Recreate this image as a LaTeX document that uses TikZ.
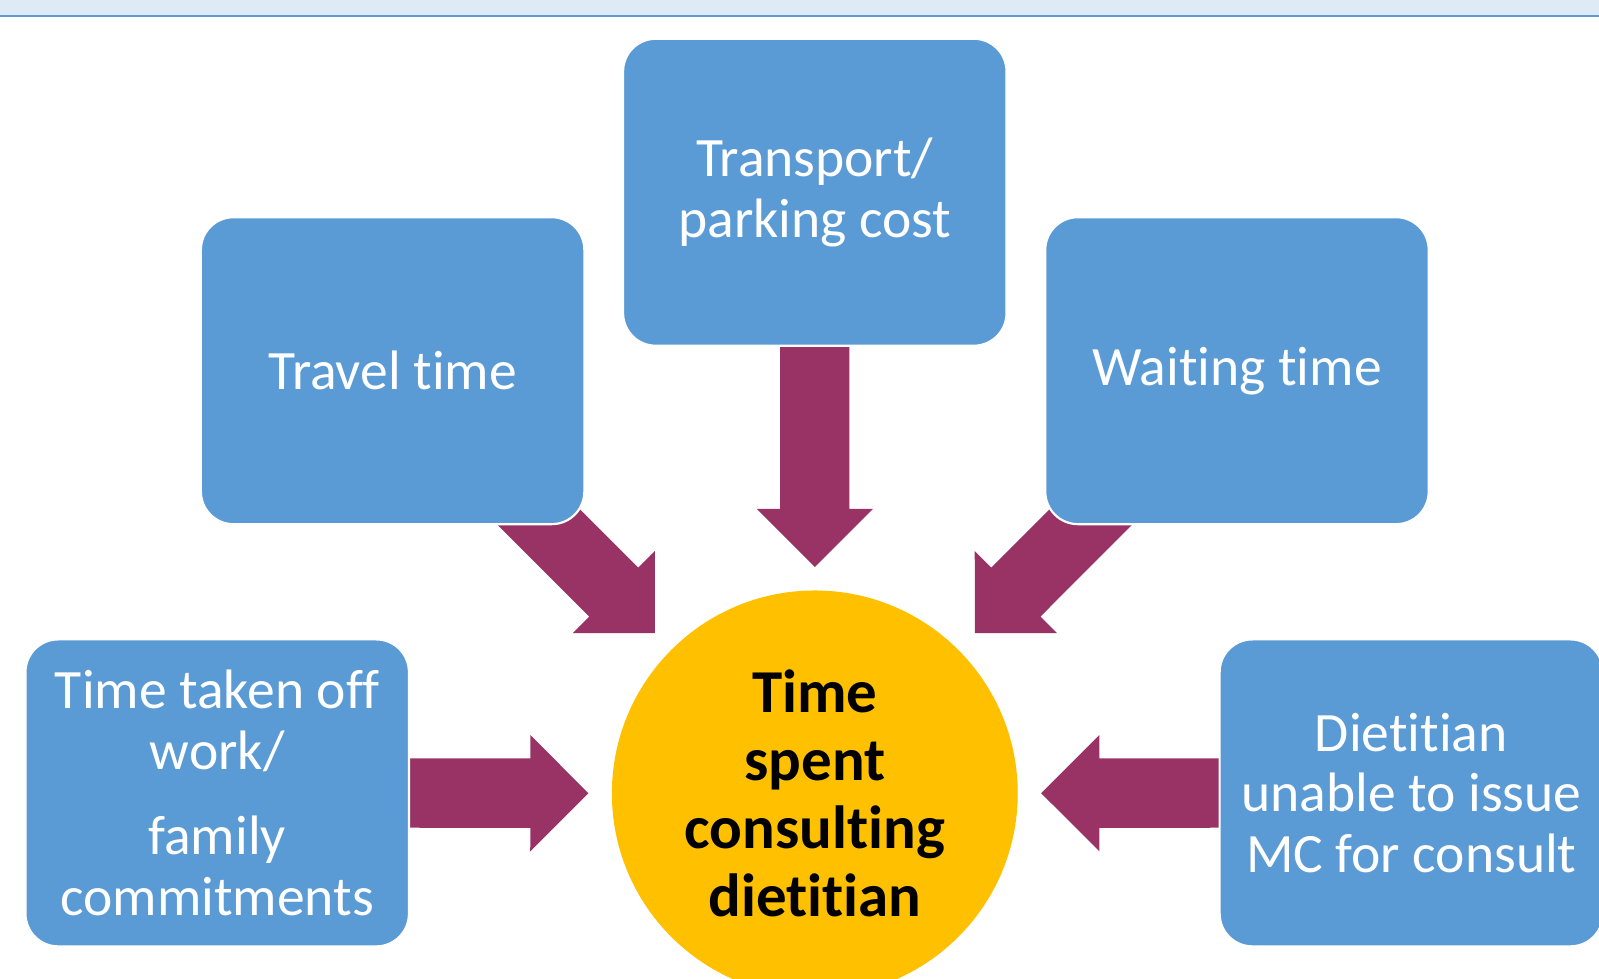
\documentclass[tikz,border=0pt]{standalone}
\usepackage{fontspec}
\setmainfont{Carlito}[Ligatures=NoCommon]
\usetikzlibrary{calc,backgrounds}
\definecolor{boxblue}{HTML}{5B9BD5}
\definecolor{plum}{HTML}{993366}
\definecolor{gold}{HTML}{FFC000}
\definecolor{bandblue}{HTML}{DEEAF6}

\tikzset{
  factor/.style={rectangle, rounded corners=0.32cm, fill=boxblue, draw=white,
    line width=0.6pt, minimum width=3.76cm, minimum height=3.01cm, inner sep=0pt,
    text=white, align=center, font=\fontsize{15.5}{16.9}\selectfont},
  core/.style={circle, fill=gold, minimum size=3.98cm, inner sep=0pt,
    align=center, font=\bfseries\fontsize{17}{19}\selectfont},
  fatarrow/.style={fill=plum}
}

\begin{document}
\begin{tikzpicture}
    \useasboundingbox (0,0) rectangle (15.68,-9.6);
    \clip (0,0) rectangle (15.68,-9.6);
    % band along the top
    \fill[bandblue] (0,0) rectangle (15.68,-0.15);
    \draw[boxblue, line width=0.6pt] (0,-0.16) -- (15.68,-0.16);

    \node[core] (cons) at (7.99,-7.78) {Time\\spent\\consulting\\dietitian};
    \node[factor] (travel) at (3.85,-3.635) {Travel time};
    \node[factor] (transport) at (7.99,-1.885) {Transport/\\parking cost};
    \node[factor] (waiting) at (12.13,-3.635) {Waiting time};
    \node[factor] (timeoff) at (2.13,-7.775) {Time taken off\\work/\\[6.8pt]family\\commitments};
    \node[factor] (mc) at (13.84,-7.775) {Dietitian\\unable to issue\\MC for consult};

    % block arrows, under the boxes
    \begin{scope}[on background layer]
    \foreach \src in {timeoff,travel,transport,waiting,mc}
        \fill[fatarrow] let \p1=($(\src.center)-(cons.center)$), \n1={atan2(\y1,\x1)} in
            [shift={(cons.center)}, rotate=\n1]
            (4.5,0.34) -- (2.79,0.34) -- (2.79,0.57) -- (2.22,0) --
            (2.79,-0.57) -- (2.79,-0.34) -- (4.5,-0.34) -- cycle;
    \end{scope}
\end{tikzpicture}
\end{document}
